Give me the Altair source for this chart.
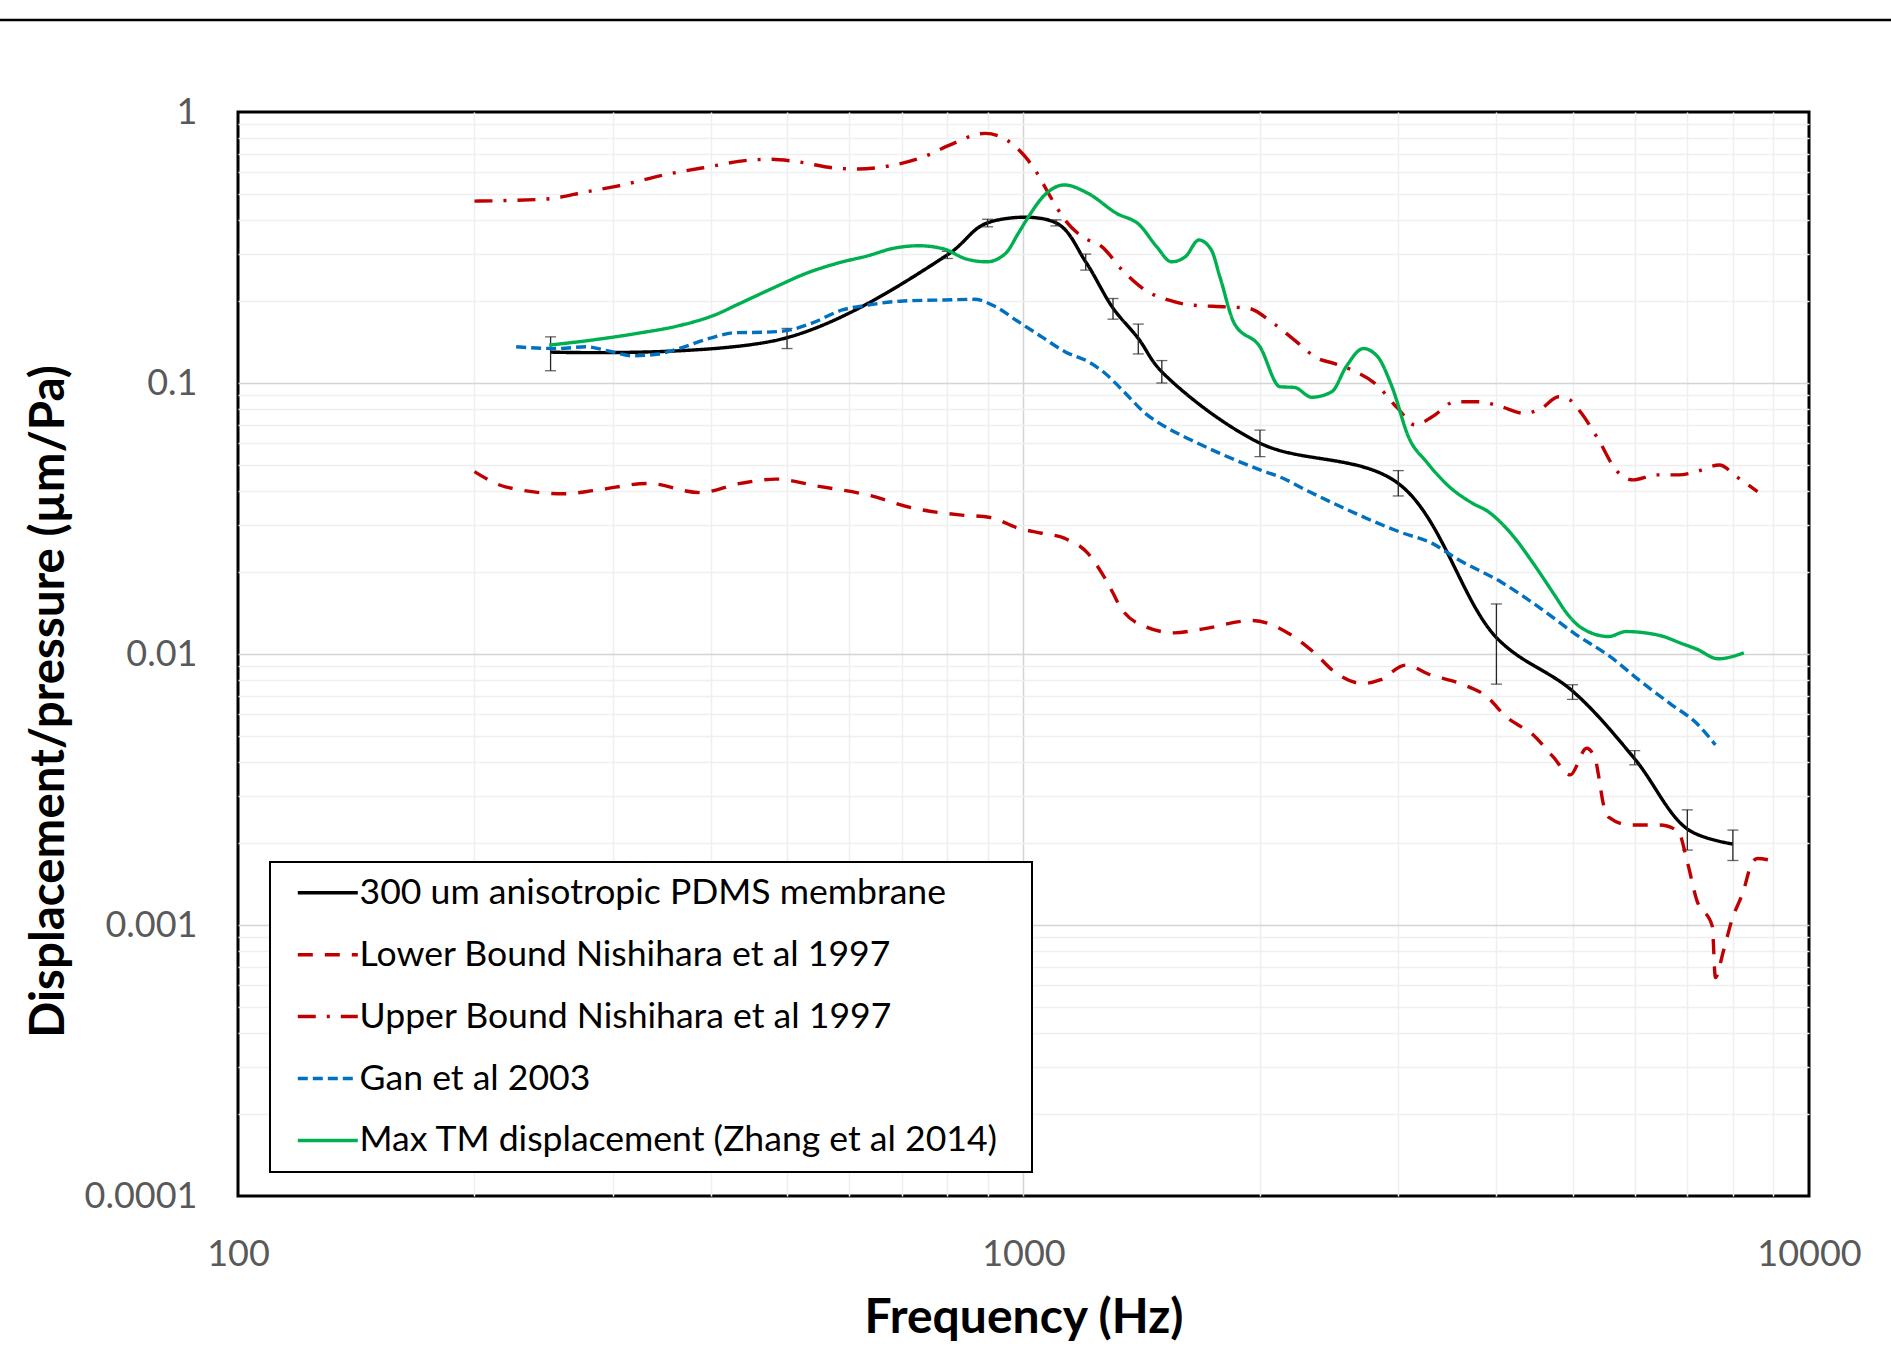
import altair as alt
import pandas as pd

# ---------------- data ----------------
series_names = [
    "300 um anisotropic PDMS membrane",
    "Lower Bound Nishihara et al 1997",
    "Upper Bound Nishihara et al 1997",
    "Gan et al 2003",
    "Max TM displacement (Zhang et al 2014)",
]
series_colors = ["#000000", "#C00000", "#C00000", "#0070C0", "#00B050"]
series_dashes = [[1, 0], [15, 12], [18, 11, 3, 11], [10, 5], [1, 0]]

pdms_freq = [250, 500, 800, 900, 1100, 1200, 1300, 1400, 1500, 2000, 3000, 4000, 5000, 6000, 7000, 8000]
pdms_val = [0.130, 0.147, 0.297, 0.39, 0.39, 0.280, 0.189, 0.146, 0.110, 0.060, 0.0426, 0.0115, 0.0073, 0.0041, 0.00226, 0.00199]
pdms_lo = [0.111, 0.134, 0.288, 0.377, 0.380, 0.261, 0.172, 0.128, 0.100, 0.0535, 0.0383, 0.00774, 0.0068, 0.0039, 0.00189, 0.00173]
pdms_hi = [0.148, 0.159, 0.306, 0.402, 0.400, 0.299, 0.205, 0.165, 0.121, 0.067, 0.0475, 0.0153, 0.0077, 0.0044, 0.00266, 0.00224]

lower_freq = [200, 219, 260, 287, 333, 387, 436, 484, 545, 634, 725, 829, 907, 986, 1055, 1129, 1208,
              1270, 1300, 1328, 1431, 1555, 1688, 1960, 2176, 2346, 2490, 2704, 2843, 3065, 3300, 3622,
              3889, 4114, 4457, 4722, 4966, 5211, 5345, 5393, 5472, 5557, 5908, 6461, 6818, 6990, 7194,
              7531, 7600, 7780, 7974, 8261, 8422, 8590, 8964]
lower_val = [0.0471, 0.0414, 0.0390, 0.0403, 0.0426, 0.0394, 0.0426, 0.0442, 0.0417, 0.0386, 0.0345, 0.0326,
             0.0319, 0.0291, 0.0279, 0.0267, 0.0235, 0.0190, 0.0168, 0.0149, 0.0126, 0.01197, 0.01236, 0.0133,
             0.0119, 0.0101, 0.00858, 0.00778, 0.00802, 0.0091, 0.00837, 0.00773, 0.00696, 0.00587, 0.00502,
             0.00418, 0.00358, 0.00449, 0.0041, 0.0036, 0.0028, 0.0025, 0.00234, 0.00234, 0.00221, 0.00174,
             0.00124, 0.00099, 0.00064, 0.00080, 0.00104, 0.00135, 0.00164, 0.00176, 0.00173]

upper_freq = [200, 247, 278, 304, 353, 398, 449, 477, 514, 579, 615, 683, 747, 805, 894, 954, 1005, 1038,
              1082, 1129, 1187, 1259, 1336, 1429, 1528, 1634, 1808, 1934, 2069, 2213, 2367, 2489, 2617,
              2801, 2996, 3150, 3314, 3545, 3791, 4055, 4338, 4563, 4799, 4963, 5133, 5398, 5678, 5971,
              6388, 6831, 7187, 7688, 8087, 8600]
upper_val = [0.469, 0.4775, 0.508, 0.533, 0.590, 0.628, 0.665, 0.669, 0.656, 0.620, 0.616, 0.637, 0.684,
             0.755, 0.834, 0.785, 0.684, 0.602, 0.487, 0.400, 0.347, 0.318, 0.261, 0.220, 0.2025, 0.194,
             0.191, 0.1886, 0.168, 0.144, 0.1234, 0.118, 0.1117, 0.0997, 0.0806, 0.070, 0.0751, 0.0853,
             0.0853, 0.0818, 0.0773, 0.0806, 0.089, 0.0866, 0.0773, 0.0616, 0.0478, 0.0439, 0.0458, 0.0458,
             0.0471, 0.0498, 0.0451, 0.0397]

gan_freq = [226, 254, 278, 295, 318, 343, 364, 398, 429, 470, 499, 537, 588, 634, 703, 793, 865, 922, 986,
            1055, 1129, 1208, 1270, 1336, 1429, 1528, 1634, 1778, 2000, 2140, 2288, 2532, 2897, 3024, 3314,
            3567, 4060, 4529, 5030, 5584, 6107, 6680, 7199, 7600]
gan_val = [0.136, 0.134, 0.136, 0.1316, 0.126, 0.128, 0.134, 0.146, 0.1533, 0.154, 0.156, 0.166, 0.186,
           0.194, 0.2007, 0.2025, 0.2036, 0.191, 0.168, 0.148, 0.1305, 0.120, 0.1086, 0.0942, 0.0773, 0.068,
           0.0616, 0.055, 0.0478, 0.0445, 0.0403, 0.035, 0.0295, 0.0281, 0.0256, 0.0224, 0.0184, 0.0149,
           0.0119, 0.00977, 0.00792, 0.00651, 0.00554, 0.00462]

green_freq = [249, 278, 323, 364, 404, 436, 484, 529, 579, 634, 683, 736, 793, 842, 898, 949, 985, 1009,
              1064, 1127, 1208, 1313, 1405, 1478, 1543, 1607, 1672, 1734, 1778, 1855, 2000, 2121, 2213, 2328,
              2469, 2575, 2708, 2824, 2945, 3097, 3258, 3485, 3729, 3900, 4203, 4461, 4737, 4920, 5110,
              5557, 5846, 6461, 6874, 7208, 7660, 8261]
green_val = [0.138, 0.1432, 0.1526, 0.1627, 0.178, 0.197, 0.2266, 0.254, 0.2765, 0.295, 0.314, 0.321,
             0.312, 0.288, 0.280, 0.301, 0.357, 0.40, 0.494, 0.538, 0.501, 0.423, 0.383, 0.318, 0.280,
             0.2924, 0.337, 0.310, 0.247, 0.166, 0.136, 0.0969, 0.0963, 0.0886, 0.0929, 0.1149, 0.134,
             0.125, 0.0969, 0.0625, 0.0512, 0.0414, 0.036, 0.0336, 0.0272, 0.0215, 0.0166, 0.0141, 0.0126,
             0.0116, 0.0121, 0.0117, 0.01095, 0.0104, 0.0096, 0.0101]

x_tick_values = [100, 200, 300, 400, 500, 600, 700, 800, 900,
                 1000, 2000, 3000, 4000, 5000, 6000, 7000, 8000, 9000, 10000]
y_tick_values = [0.0001, 0.0002, 0.0003, 0.0004, 0.0005, 0.0006, 0.0007, 0.0008, 0.0009,
                 0.001, 0.002, 0.003, 0.004, 0.005, 0.006, 0.007, 0.008, 0.009,
                 0.01, 0.02, 0.03, 0.04, 0.05, 0.06, 0.07, 0.08, 0.09,
                 0.1, 0.2, 0.3, 0.4, 0.5, 0.6, 0.7, 0.8, 0.9, 1]

x_title = "Frequency (Hz)"
y_title = "Displacement/pressure (µm/Pa)"

# ---------------- tables ----------------
black_df = pd.DataFrame({"f": pdms_freq, "v": pdms_val, "lo": pdms_lo, "hi": pdms_hi, "s": series_names[0]})
others = []
for name, fr, vals in [(series_names[1], lower_freq, lower_val),
                       (series_names[2], upper_freq, upper_val),
                       (series_names[3], gan_freq, gan_val),
                       (series_names[4], green_freq, green_val)]:
    others.append(pd.DataFrame({"f": fr, "v": vals, "s": name}))
others_df = pd.concat(others, ignore_index=True)

FONT = "Lato"
major = "abs(log(datum.value)/LN10 - round(log(datum.value)/LN10)) < 0.000001"

x_axis = alt.Axis(
    values=x_tick_values, format="d",
    labelExpr=f"{major} ? datum.label : ''",
    grid=True, gridWidth=1.5,
    gridColor={"condition": {"test": major, "value": "#d4d4d4"}, "value": "#efefef"},
    gridOpacity={"condition": {"test": "datum.value <= 100 || datum.value >= 10000", "value": 0}, "value": 1},
    ticks=False, tickSize=0, domain=False,
    labelFont=FONT, labelFontSize=36, labelColor="#595959",
    labelBaseline="alphabetic", labelPadding=69, labelFlush=False, labelOverlap=False,
    titleFont=FONT, titleFontSize=48, titleFontWeight="bold", titleColor="#000000",
    titleBaseline="alphabetic", titleY=136,
)
y_axis = alt.Axis(
    values=y_tick_values, format="~g",
    labelExpr=f"{major} ? datum.label : ''",
    grid=True, gridWidth=1.5,
    gridColor={"condition": {"test": major, "value": "#d4d4d4"}, "value": "#efefef"},
    gridOpacity={"condition": {"test": "datum.value <= 0.0001 || datum.value >= 1", "value": 0}, "value": 1},
    ticks=False, tickSize=0, domain=False,
    labelFont=FONT, labelFontSize=36, labelColor="#595959",
    labelPadding=41, labelOverlap=False, labelFlush=False,
    titleFont=FONT, titleFontSize=47.5, titleFontWeight="bold", titleColor="#000000",
    titleAngle=270, titleAlign="center", titleBaseline="alphabetic", titleX=-175, titleY=589,
)

xs = alt.Scale(type="log", domain=[100, 10000], nice=False)
ys = alt.Scale(type="log", domain=[0.0001, 1], nice=False)

legend = alt.Legend(
    title=None, orient="none", legendX=32, legendY=750,
    symbolType="M-3,0H3M68.4,0", symbolSize=400, symbolStrokeWidth=3.5, symbolOffset=27,
    labelFont=FONT, labelFontSize=35.6, labelColor="#000000", labelLimit=2000, labelOffset=14,
    rowPadding=24.9, padding=13, fillColor="#ffffff", strokeColor="#000000",
)

color_enc = alt.Color("s:N", scale=alt.Scale(domain=series_names, range=series_colors), legend=legend)
dash_enc = alt.StrokeDash("s:N", scale=alt.Scale(domain=series_names, range=series_dashes), legend=legend)

X = alt.X("f:Q", scale=xs, axis=x_axis, title=x_title)
Y = alt.Y("v:Q", scale=ys, axis=y_axis, title=y_title)

black_line = alt.Chart(black_df).mark_line(interpolate="catmull-rom", strokeWidth=3.4).encode(
    x=X, y=Y, color=color_enc, strokeDash=dash_enc)

err = alt.Chart(black_df).mark_errorbar(
    ticks={"size": 11, "thickness": 1.3, "color": "#262626"}, thickness=1.3, color="#262626"
).encode(
    x=alt.X("f:Q", scale=xs, axis=x_axis, title=x_title),
    y=alt.Y("lo:Q", scale=ys, axis=y_axis, title=y_title),
    y2="hi:Q",
)

other_lines = alt.Chart(others_df).mark_line(interpolate="monotone", strokeWidth=3.4).encode(
    x=X, y=Y, color=color_enc, strokeDash=dash_enc, detail="s:N")

top_rule = alt.Chart(pd.DataFrame({"k": [0]})).mark_rule(color="#000000", strokeWidth=2.5).encode(
    x=alt.value(-238), x2=alt.value(1653), y=alt.value(-92))

chart = alt.layer(top_rule, black_line, err, other_lines).properties(
    width=1571, height=1084,
    padding={"left": 238, "top": 112, "right": 82, "bottom": 152},
    autosize=alt.AutoSizeParams(type="none"),
    background="#ffffff",
).configure_view(stroke="#000000", strokeWidth=3).configure_legend(strokeWidth=2)

chart.save("out.html", embed_options={"renderer": "svg", "actions": False})
